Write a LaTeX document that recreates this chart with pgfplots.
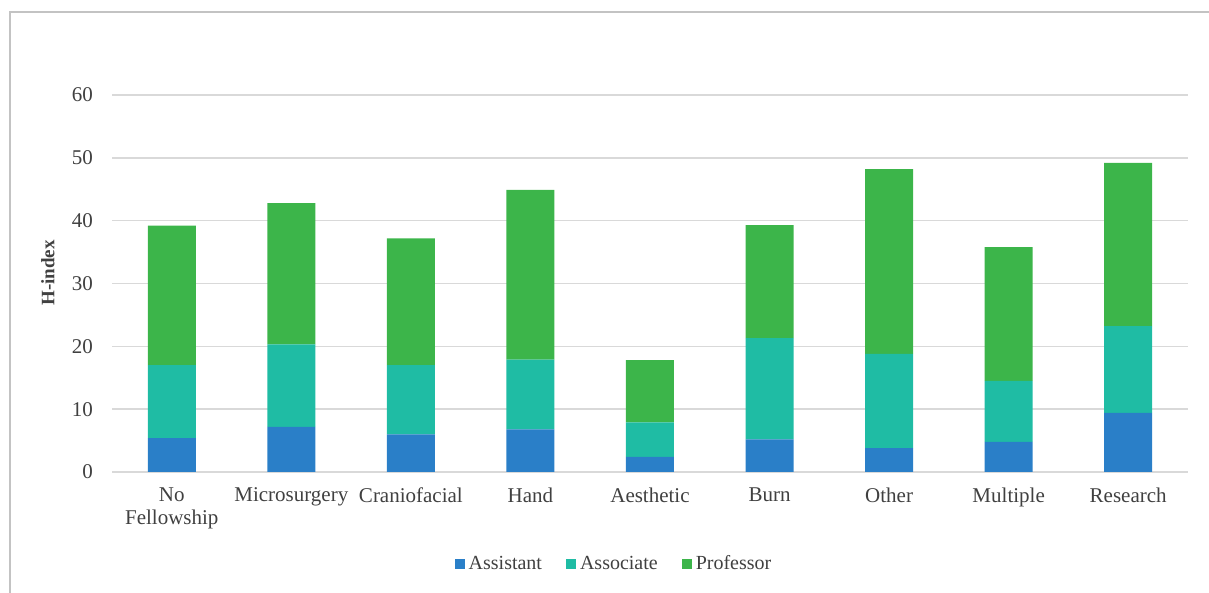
\documentclass[border=0pt]{standalone}
\usepackage{pgfplots}
\pgfplotsset{compat=1.18}
\usepackage{fontspec}
\setmainfont{Liberation Serif}

\definecolor{cAssist}{HTML}{2A7FC8}
\definecolor{cAssoc}{HTML}{1FBCA4}
\definecolor{cProf}{HTML}{3CB54A}
\definecolor{txt}{HTML}{404040}
\definecolor{grid}{HTML}{D9D9D9}

\begin{document}
\begin{tikzpicture}
% page: 1209 x 593 px at 0.5pt per px
\useasboundingbox (0,0) rectangle (604.5pt,296.5pt);
\draw[color=grid!90!black, line width=1pt] (5pt,-5pt) -- (5pt,290.5pt) -- (610pt,290.5pt);

\begin{axis}[
    at={(56pt,60.5pt)}, anchor=south west,
    scale only axis, width=538pt, height=188.5pt,
    ybar stacked, bar width=24pt,
    xmin=-0.5, xmax=8.5, ymin=0, ymax=60,
    xtick={0,...,8},
    xticklabels={{No\\Fellowship},Microsurgery,Craniofacial,Hand,Aesthetic,Burn,Other,Multiple,Research},
    ytick={0,10,...,60},
    axis line style={draw=none},
    major tick length=0pt,
    ymajorgrids, grid style={color=grid, line width=0.75pt},
    /pgf/number format/assume math mode=true,
    tick label style={text=txt, font=\fontsize{10.5}{11.5}\selectfont},
    xticklabel style={align=center, anchor=north, yshift=-4.5pt},
    yticklabel style={anchor=east, xshift=-6pt},
    ylabel={H-index},
    every axis y label/.style={at={(rel axis cs:-0.0595,0.528)}, rotate=90, anchor=center,
        font=\fontsize{9.5}{11}\selectfont\bfseries, text=txt},
    legend columns=3,
    legend style={at={(rel axis cs:0.4675,-0.244)}, anchor=center, draw=none, fill=none,
        font=\fontsize{10}{12}\selectfont, text=txt,
        /tikz/every even column/.append style={column sep=10pt}},
    legend image code/.code={\fill[#1] (0pt,-2.5pt) rectangle (5pt,2.5pt);},
]
\addplot[fill=cAssist, draw=none] coordinates {(0,5.4) (1,7.2) (2,6.0) (3,6.8) (4,2.4) (5,5.2) (6,3.8) (7,4.8) (8,9.4)};
\addplot[fill=cAssoc, draw=none] coordinates {(0,11.6) (1,13.1) (2,11.0) (3,11.1) (4,5.5) (5,16.1) (6,15.0) (7,9.7) (8,13.8)};
\addplot[fill=cProf, draw=none] coordinates {(0,22.2) (1,22.5) (2,20.2) (3,27.0) (4,9.9) (5,18.0) (6,29.4) (7,21.3) (8,26.0)};
\legend{Assistant,Associate,Professor}
\end{axis}
\end{tikzpicture}
\end{document}
